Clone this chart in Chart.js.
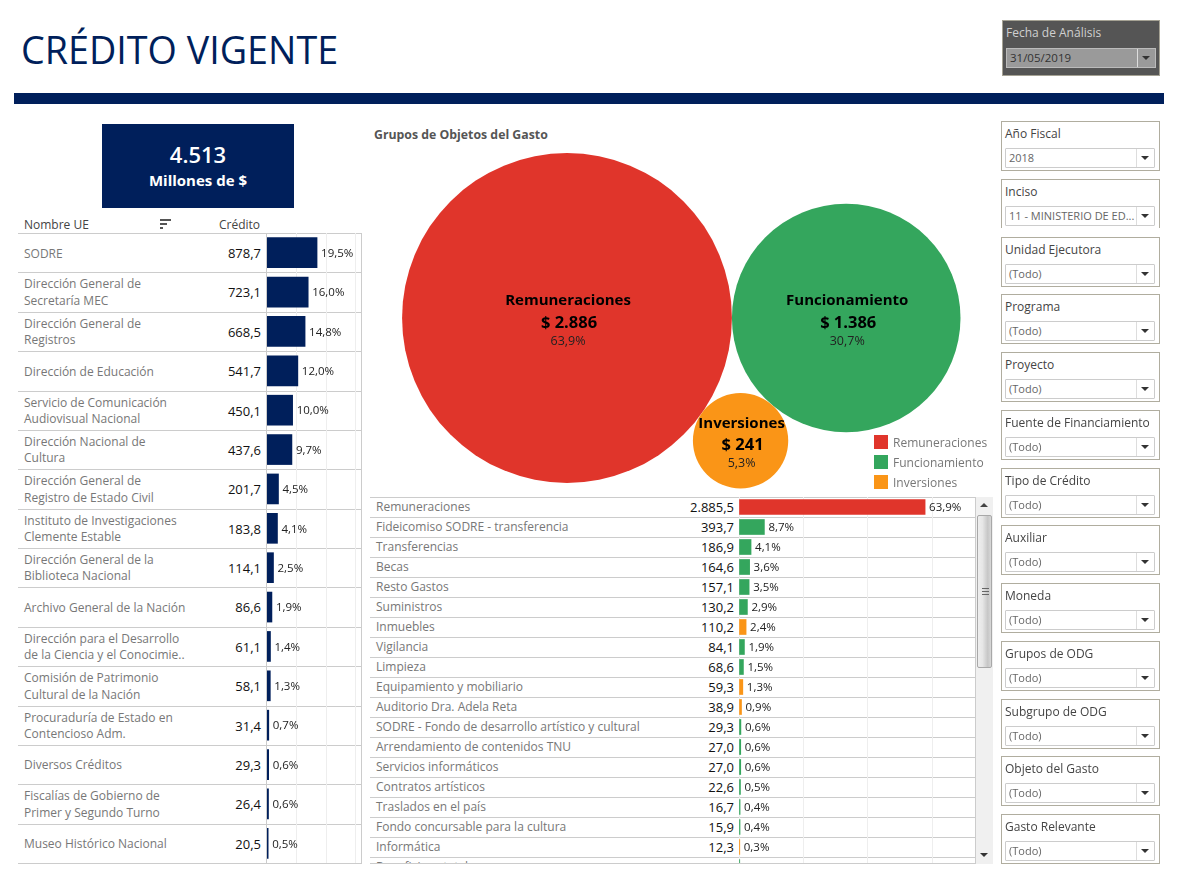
<!DOCTYPE html>
<html lang="es">
<head>
<meta charset="utf-8">
<title>Crédito Vigente</title>
<script src="https://cdn.jsdelivr.net/npm/chart.js@4"></script>
<style>
  html, body { margin: 0; padding: 0; background: #fff; }
  body { width: 1177px; height: 885px; position: relative; overflow: hidden; font-family: "Open Sans", sans-serif; font-size: 12px; color: #555; }
  .abs { position: absolute; }
  #title { left: 21px; top: 25px; font-size: 37.7px; color: #001f5b; line-height: 50px; white-space: nowrap; }
  #rule { left: 14px; top: 93px; width: 1150px; height: 11px; background: #001f5b; }
  #kpi { left: 102px; top: 124px; width: 192px; height: 84px; background: #001f5b; color: #fff; text-align: center; }
  #kpi .n { font-size: 22px; line-height: 26px; margin-top: 17px; font-weight: 600; }
  #kpi .u { font-size: 15px; line-height: 20px; margin-top: 3px; font-weight: 700; }
  #fecha { left: 1002px; top: 20px; width: 156px; height: 54px; background: #555; border: 1px solid #a5a294; }
  #fecha .l { position: absolute; left: 3px; top: 3px; color: #d0d0d0; }
  #fecha .d { position: absolute; left: 3px; top: 27px; width: 148px; height: 18px; background: #9a9a9a; border: 1px solid #bbb; color: #333; line-height: 18px; text-indent: 3px; font-size: 11.5px; }
  .table-line { position: absolute; height: 1px; background: #ccc; }
  .name { position: absolute; left: 24px; width: 170px; line-height: 16.4px; color: #777; font-size: 12px; }
  .val { position: absolute; text-align: right; color: #111; font-size: 13px; }
  .odg-name { position: absolute; left: 376px; color: #777; font-size: 12px; line-height: 20px; white-space: nowrap; }
  .filter { position: absolute; left: 1001px; width: 157px; height: 48px; border: 1px solid #b0ad9f; background: #fff; }
  .filter .l { position: absolute; left: 3px; top: 3px; color: #444; white-space: nowrap; }
  .filter .d { position: absolute; left: 3px; top: 26px; width: 148px; height: 18px; border: 1px solid #ccc; border-radius: 1px; color: #666; font-size: 11px; line-height: 18px; text-indent: 3px; white-space: nowrap; overflow: hidden; }
  .arrow { position: absolute; right: 5px; top: 7px; width: 0; height: 0; border-left: 4px solid transparent; border-right: 4px solid transparent; border-top: 4px solid #333; }
  .sep { position: absolute; right: 17px; top: 0; bottom: 0; width: 1px; background: #ddd; }
  .legend-box { position: absolute; left: 874px; width: 14px; height: 14px; }
  .legend-txt { position: absolute; left: 893px; color: #777; font-size: 12px; line-height: 14px; }
  .grip { position: absolute; left: 4px; width: 7px; height: 1px; background: #666; }
  canvas { display: block; }
</style>
</head>
<body>
<div class="abs" id="title">CRÉDITO VIGENTE</div>
<div class="abs" id="rule"></div>
<div class="abs" id="fecha"><div class="l">Fecha de Análisis</div><div class="d">31/05/2019<div class="sep"></div><div class="arrow"></div></div></div>
<div class="abs" id="kpi"><div class="n">4.513</div><div class="u">Millones de $</div></div>
<div class="abs" style="left:24px;top:216px;color:#444;">Nombre UE</div>
<div class="abs" style="left:160px;top:219px;width:11px;height:2px;background:#555;"></div>
<div class="abs" style="left:160px;top:223px;width:7px;height:2px;background:#555;"></div>
<div class="abs" style="left:160px;top:227px;width:3px;height:2px;background:#555;"></div>
<div class="abs" style="left:219px;top:216px;color:#444;">Crédito</div>
<div class="abs" style="left:374px;top:126px;font-weight:700;font-size:12.3px;color:#555;">Grupos de Objetos del Gasto</div>

<div id="rows"></div>
<div class="abs" style="left:266px;top:233px;width:1px;height:631px;background:#ccc;"></div>
<div class="abs" style="left:361px;top:233px;width:1px;height:631px;background:#ccc;"></div>
<div class="abs" style="left:267px;top:233px;width:94px;height:630px;"><canvas id="ueChart"></canvas></div>

<div class="abs" style="left:370px;top:150px;width:620px;height:345px;"><canvas id="bubbleChart"></canvas></div>
<div id="legend"></div>

<div class="abs" id="odgClip" style="left:370px;top:497px;width:606px;height:367px;overflow:hidden;"><div id="odgRows"></div>
  <div class="abs" style="left:369px;top:0;width:236px;height:380px;"><canvas id="odgChart"></canvas></div>
  <div class="abs" style="left:0;top:366px;width:606px;height:1px;background:#ccc;"></div>
  <div class="abs" style="left:605px;top:0;width:1px;height:367px;background:#ccc;"></div>
</div>
<div class="abs" id="scroll" style="left:976px;top:497px;width:17px;height:367px;background:#f0f0f0;">
  <div class="arrow" style="right:5px;top:6px;border-top:none;border-bottom:4px solid #444;"></div>
  <div class="abs" style="left:1px;top:18px;width:15px;height:153px;background:linear-gradient(to right,#eeeeee,#e6e6e6 35%,#c6c6c6 75%,#d8d8d8);border:1px solid #a8a8a8;border-radius:2px;box-sizing:border-box;">
    <div class="grip" style="top:72px;"></div><div class="grip" style="top:75px;"></div><div class="grip" style="top:78px;"></div>
  </div>
  <div class="arrow" style="right:5px;top:356px;"></div>
</div>
<div id="filters"></div>

<script>
const ueNames = [
  "SODRE", "Dirección General de<br>Secretaría MEC", "Dirección General de<br>Registros", "Dirección de Educación",
  "Servicio de Comunicación<br>Audiovisual Nacional", "Dirección Nacional de<br>Cultura",
  "Dirección General de<br>Registro de Estado Civil", "Instituto de Investigaciones<br>Clemente Estable",
  "Dirección General de la<br>Biblioteca Nacional", "Archivo General de la Nación",
  "Dirección para el Desarrollo<br>de la Ciencia y el Conocimie..", "Comisión de Patrimonio<br>Cultural de la Nación",
  "Procuraduría de Estado en<br>Contencioso Adm.", "Diversos Créditos",
  "Fiscalías de Gobierno de<br>Primer y Segundo Turno", "Museo Histórico Nacional"
];
const ueCredito = [878.7, 723.1, 668.5, 541.7, 450.1, 437.6, 201.7, 183.8, 114.1, 86.6, 61.1, 58.1, 31.4, 29.3, 26.4, 20.5];
const uePct = [19.5, 16.0, 14.8, 12.0, 10.0, 9.7, 4.5, 4.1, 2.5, 1.9, 1.4, 1.3, 0.7, 0.6, 0.6, 0.5];

const grupoNames = ["Remuneraciones", "Funcionamiento", "Inversiones"];
const grupoCredito = [2886, 1386, 241];
const grupoPct = [63.9, 30.7, 5.3];
const grupoColors = ["#e0352b", "#34a65d", "#fa9517"];

const odgNames = [
  "Remuneraciones", "Fideicomiso SODRE - transferencia", "Transferencias", "Becas", "Resto Gastos", "Suministros",
  "Inmuebles", "Vigilancia", "Limpieza", "Equipamiento y mobiliario", "Auditorio Dra. Adela Reta",
  "SODRE - Fondo de desarrollo artístico y cultural", "Arrendamiento de contenidos TNU", "Servicios informáticos",
  "Contratos artísticos", "Traslados en el país", "Fondo concursable para la cultura", "Informática", "Beneficio estatal"
];
const odgCredito = [2885.5, 393.7, 186.9, 164.6, 157.1, 130.2, 110.2, 84.1, 68.6, 59.3, 38.9, 29.3, 27.0, 27.0, 22.6, 16.7, 15.9, 12.3, 11.8];
const odgPct = [63.9, 8.7, 4.1, 3.6, 3.5, 2.9, 2.4, 1.9, 1.5, 1.3, 0.9, 0.6, 0.6, 0.6, 0.5, 0.4, 0.4, 0.3, null];
const odgGrupo = [0, 1, 1, 1, 1, 1, 2, 1, 1, 2, 2, 1, 1, 1, 1, 1, 1, 2, 1];

const filterNames = ["Año Fiscal", "Inciso", "Unidad Ejecutora", "Programa", "Proyecto", "Fuente de Financiamiento", "Tipo de Crédito", "Auxiliar", "Moneda", "Grupos de ODG", "Subgrupo de ODG", "Objeto del Gasto", "Gasto Relevante"];
const filterValues = ["2018", "11 - MINISTERIO DE ED...", "(Todo)", "(Todo)", "(Todo)", "(Todo)", "(Todo)", "(Todo)", "(Todo)", "(Todo)", "(Todo)", "(Todo)", "(Todo)"];

const NAVY = "#001f5b";
const UE_ROW = 39.38;
const ODG_ROW = 20;
const fmtEs = (v, digits) => {
  const [int, dec] = v.toFixed(digits).split(".");
  const grouped = int.replace(/\B(?=(\d{3})+$)/g, ".");
  return dec ? grouped + "," + dec : grouped;
};
const fmtPct = (v) => fmtEs(v, 1) + "%";
const BAR_FONT = '"Open Sans", sans-serif';

// html part of the tables
function buildTables() {
  let html = '<div class="table-line" style="left:18px;top:233px;width:344px;"></div>';
  ueNames.forEach((name, i) => {
    const top = 233 + i * UE_ROW;
    const lines = name.split("<br>").length;
    html += `<div class="name" style="top:${top + (lines === 2 ? 4 : 12.5)}px;">${name}</div>`;
    html += `<div class="val" style="left:200px;width:61px;top:${top + 11}px;">${fmtEs(ueCredito[i], 1)}</div>`;
    html += `<div class="table-line" style="left:18px;top:${Math.round(top + UE_ROW)}px;width:344px;"></div>`;
  });
  document.getElementById("rows").innerHTML = html;

  let odg = '<div class="table-line" style="left:0;top:0;width:606px;"></div>';
  odgNames.forEach((name, i) => {
    const top = i * ODG_ROW;
    odg += `<div class="odg-name" style="left:6px;top:${top}px;">${name}</div>`;
    odg += `<div class="val" style="left:270px;width:94px;top:${top + 1}px;">${fmtEs(odgCredito[i], 1)}</div>`;
    odg += `<div class="table-line" style="left:0;top:${top + ODG_ROW}px;width:606px;"></div>`;
  });
  document.getElementById("odgRows").innerHTML = odg;

  document.getElementById("legend").innerHTML = grupoNames.map((g, i) => `
    <div class="legend-box" style="top:${435 + i * 20}px;background:${grupoColors[i]};"></div>
    <div class="legend-txt" style="top:${436 + i * 20}px;">${g}</div>`).join("");

  document.getElementById("filters").innerHTML = filterNames.map((f, i) => `
    <div class="filter" style="top:${Math.round(121 + i * 57.75)}px;${i === 1 ? "border-bottom:none;" : ""}">
      <div class="l">${f}</div>
      <div class="d">${filterValues[i]}<div class="sep"></div><div class="arrow"></div></div>
    </div>`).join("");
}

// value labels at the end of each bar
const pctLabels = {
  id: "pctLabels",
  afterDatasetsDraw(chart, args, opts) {
    const { ctx } = chart;
    const bars = chart.getDatasetMeta(0).data;
    ctx.save();
    ctx.fillStyle = "#222";
    ctx.font = "11.5px " + BAR_FONT;
    ctx.textBaseline = "middle";
    bars.forEach((bar, i) => {
      if (opts.values[i] != null) ctx.fillText(fmtPct(opts.values[i]), bar.x + 4, bar.y + 1);
    });
    ctx.restore();
  },
};

function barChart(id, labels, values, pct, colors, max, gridTicks, barPx) {
  return new Chart(document.getElementById(id), {
    type: "bar",
    data: { labels, datasets: [{ data: values, backgroundColor: colors, barThickness: barPx }] },
    options: {
      indexAxis: "y",
      animation: false,
      responsive: true,
      maintainAspectRatio: false,
      layout: { padding: 0 },
      plugins: { legend: { display: false }, tooltip: { enabled: false }, pctLabels: { values: pct } },
      scales: {
        x: {
          min: 0, max,
          afterBuildTicks: (axis) => { axis.ticks = gridTicks.map((value) => ({ value })); },
          ticks: { display: false },
          grid: { color: "#eeeeee", drawTicks: false },
          border: { display: false },
        },
        y: { display: false },
      },
    },
    plugins: [pctLabels],
  });
}

// bubbles packed tangent to each other, sizes follow the values
const R_K = 3.07;
const radii = grupoCredito.map((v) => Math.sqrt(v) * R_K);
function packPoints() {
  const [r1, r2, r3] = radii;
  const d = r1 + r2;
  const a = (d * d + (r1 + r3) ** 2 - (r2 + r3) ** 2) / (2 * d);
  const h = Math.sqrt((r1 + r3) ** 2 - a * a);
  return [{ x: 0, y: 0, r: r1 }, { x: d, y: 0, r: r2 }, { x: a, y: h, r: r3 }];
}

const bubbleLabels = {
  id: "bubbleLabels",
  afterDatasetsDraw(chart) {
    const { ctx } = chart;
    ctx.save();
    ctx.textAlign = "center";
    ctx.textBaseline = "middle";
    chart.getDatasetMeta(0).data.forEach((pt, i) => {
      ctx.fillStyle = "#000";
      ctx.font = "700 15px " + BAR_FONT;
      ctx.fillText(grupoNames[i], pt.x + 1, pt.y - 17);
      ctx.font = "700 16.5px " + BAR_FONT;
      ctx.fillText("$ " + fmtEs(grupoCredito[i], 0), pt.x + 2, pt.y + 5);
      ctx.font = "12.5px " + BAR_FONT;
      ctx.fillStyle = "#222";
      ctx.fillText(fmtPct(grupoPct[i]), pt.x + 1, pt.y + 23);
    });
    ctx.restore();
  },
};

function bubbleChart() {
  new Chart(document.getElementById("bubbleChart"), {
    type: "bubble",
    data: {
      datasets: [{
        data: packPoints(),
        backgroundColor: grupoColors,
        borderWidth: 0,
        hoverBorderWidth: 0,
        clip: false,
      }],
    },
    options: {
      animation: false,
      responsive: true,
      maintainAspectRatio: false,
      layout: { padding: 0, autoPadding: false },
      plugins: { legend: { display: false }, tooltip: { enabled: false } },
      scales: {
        x: { display: false, min: -197, max: 423 },
        y: { display: false, min: -168, max: 177, reverse: true },
      },
    },
    plugins: [bubbleLabels],
  });
}

window.addEventListener("DOMContentLoaded", async () => {
  buildTables();
  if (document.fonts && document.fonts.ready) await document.fonts.ready;
  barChart("ueChart", ueNames, ueCredito, uePct, NAVY, 1650, [510, 1037, 1547], 30);
  barChart("odgChart", odgNames, odgCredito, odgPct, odgGrupo.map((g) => grupoColors[g]), 3659, [0, 1000, 2000, 3000], 15);
  bubbleChart();
});
</script>
</body>
</html>
